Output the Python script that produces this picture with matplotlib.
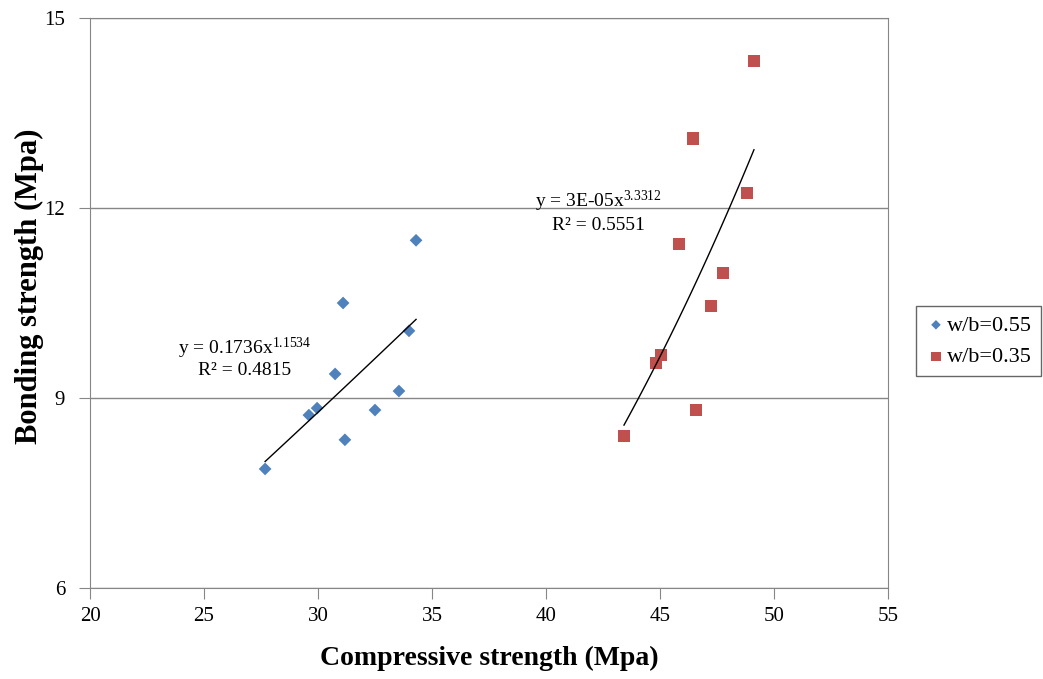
import numpy as np
import matplotlib
matplotlib.use("Agg")
from matplotlib import pyplot as plt

plt.rcParams["font.family"] = ["Liberation Serif", "DejaVu Serif"]
plt.rcParams["mathtext.fontset"] = "custom"
plt.rcParams["mathtext.rm"] = "Liberation Serif"
plt.rcParams["mathtext.it"] = "Liberation Serif:italic"

# w/b = 0.55 series
x055 = [27.68, 29.6, 29.96, 30.75, 31.1, 31.18, 32.5, 33.55, 33.99, 34.3]
y055 = [7.88, 8.73, 8.84, 9.38, 10.5, 8.34, 8.81, 9.11, 10.06, 11.49]
# w/b = 0.35 series
x035 = [43.42, 44.82, 45.04, 45.83, 46.45, 46.58, 47.24, 47.76, 48.82, 49.12]
y035 = [8.40, 9.55, 9.68, 11.43, 13.1, 8.81, 10.45, 10.97, 12.24, 14.32]

# power trendline printed on the chart for w/b=0.55
fit055 = (0.1736, 1.1534)
eq055 = ["y = 0.1736x$^{1.1534}$", "R\u00b2 = 0.4815"]
eq035 = ["y = 3E-05x$^{3.3312}$", "R\u00b2 = 0.5551"]

xticks = [20, 25, 30, 35, 40, 45, 50, 55]
yticks = [6, 9, 12, 15]

blue = "#4F81BD"
red = "#C0504D"


fig = plt.figure(figsize=(10.43, 6.79), dpi=100)
ax = fig.add_axes([0.0863, 0.134, 0.7651, 0.8395])

ax.scatter(x055, y055, marker="D", s=42, c=blue, edgecolor="none", label="w/b=0.55", zorder=3)
ax.scatter(x035, y035, marker="s", s=80, c=red, edgecolor="none", label="w/b=0.35", zorder=3)

xx = np.linspace(min(x055), max(x055), 100)
ax.plot(xx, fit055[0] * xx ** fit055[1], color="black", lw=1.0, zorder=4)
# red trend is fitted from the points (printed coefficient is rounded)
b, lna = np.polyfit(np.log(x035), np.log(y035), 1)
xx = np.linspace(min(x035), max(x035), 100)
ax.plot(xx, np.exp(lna) * xx ** b, color="black", lw=1.0, zorder=4)

ax.text(26.8, 9.78, eq055[0], ha="center", va="center", fontsize=14)
ax.text(26.8, 9.43, eq055[1], ha="center", va="center", fontsize=14)
ax.text(42.3, 12.10, eq035[0], ha="center", va="center", fontsize=14)
ax.text(42.3, 11.72, eq035[1], ha="center", va="center", fontsize=14)

ax.set_xlim(20, 55)
ax.set_ylim(6, 15)
ax.set_xticks(xticks)
ax.set_yticks(yticks)
ax.tick_params(axis="both", labelsize=15, direction="out", length=8, color="#868686")
ax.tick_params(axis="x", pad=6)
ax.tick_params(axis="y", pad=10)
ax.grid(axis="y", color="#868686", lw=1)
ax.set_axisbelow(True)
for sp in ax.spines.values():
    sp.set_color("#868686")

ax.set_xlabel("Compressive strength (Mpa)", fontsize=20, fontweight="bold", labelpad=14)
ax.set_ylabel("Bonding strength (Mpa)", fontsize=22, fontweight="bold")
ax.yaxis.set_label_coords(-0.058, 0.53)

leg = ax.legend(loc="center left", bbox_to_anchor=(1.035, 0.433), fontsize=16,
                frameon=True, fancybox=False, edgecolor="#404040", handletextpad=0.0,
                handlelength=1.0, borderpad=0.4, labelspacing=0.5, markerscale=0.75,
                borderaxespad=0.0)
leg.get_frame().set_linewidth(1.0)

fig.savefig("out.png", dpi=100)
